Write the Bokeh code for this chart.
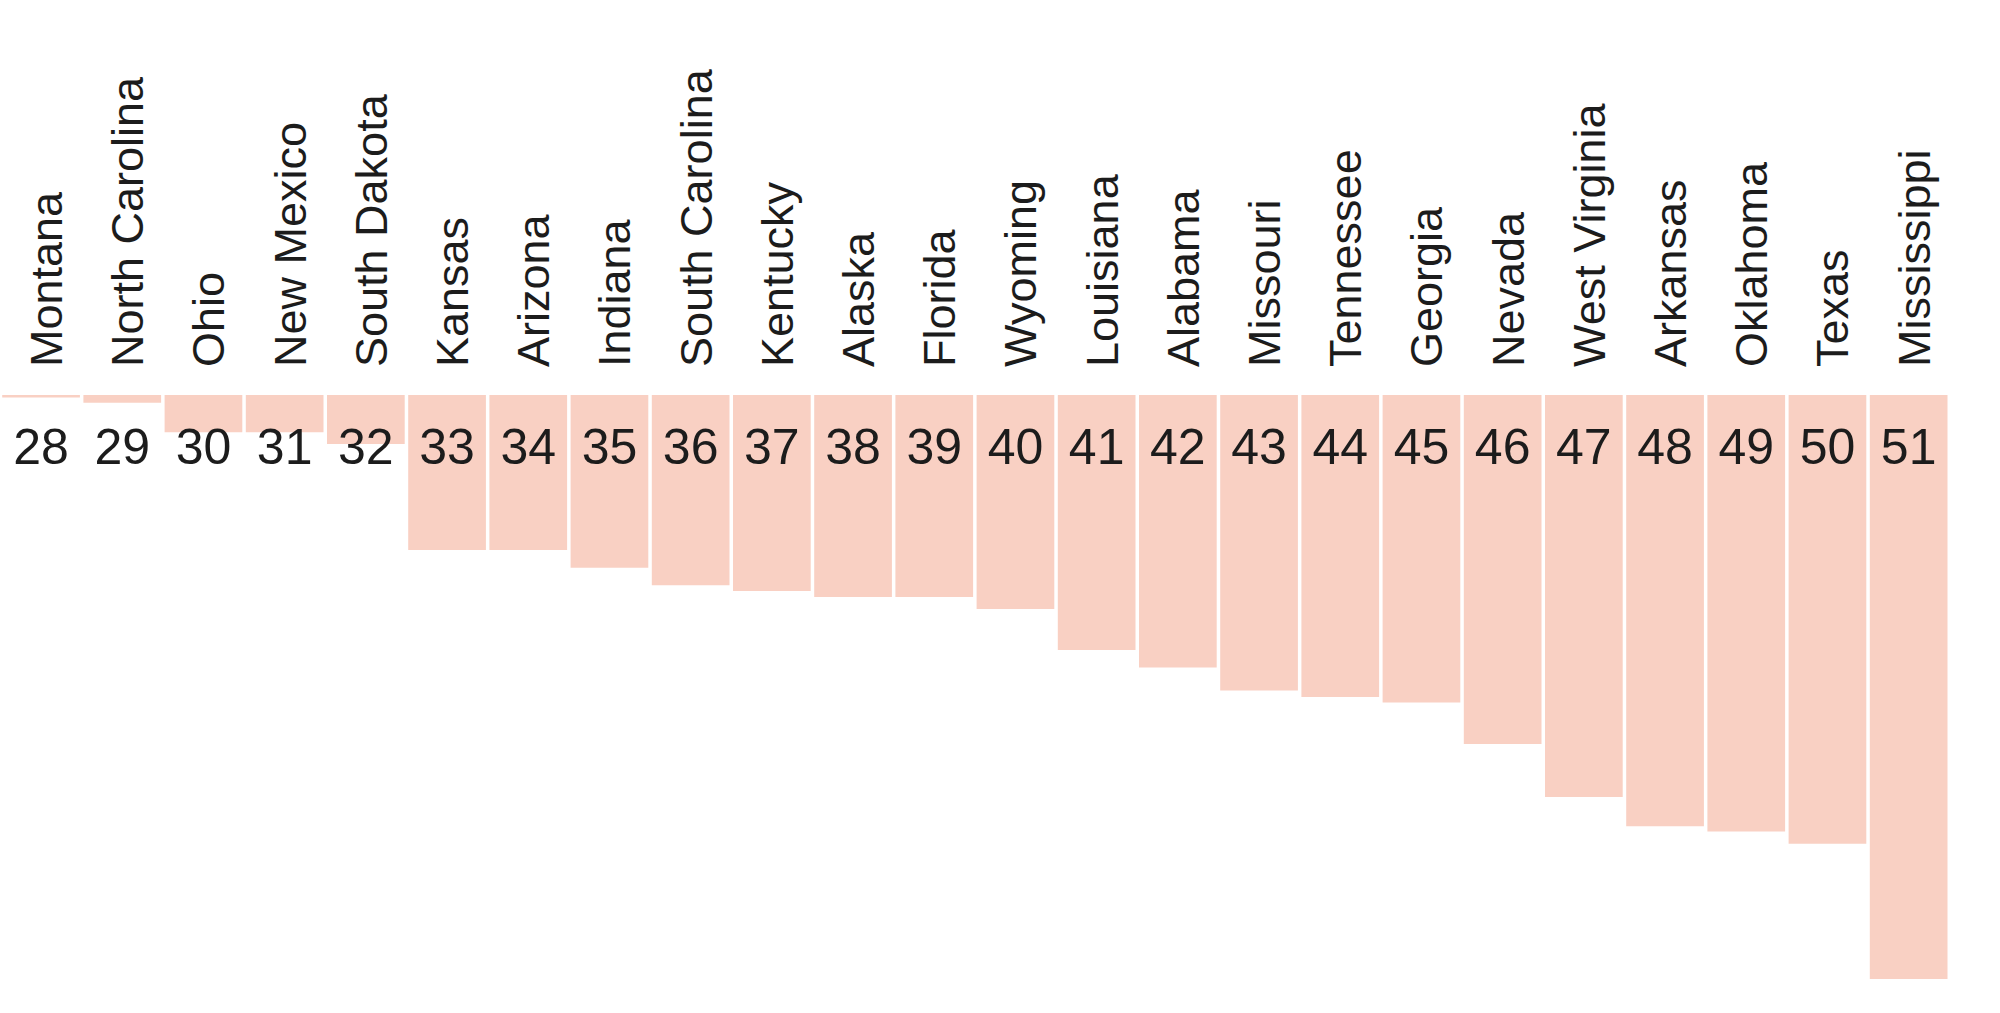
import math
from bokeh.plotting import figure
from bokeh.models import ColumnDataSource, Range1d
from bokeh.core.properties import value
from bokeh.embed import file_html
from bokeh.resources import INLINE

# ---- data ----
states = ["Montana", "North Carolina", "Ohio", "New Mexico", "South Dakota", "Kansas",
          "Arizona", "Indiana", "South Carolina", "Kentucky", "Alaska", "Florida",
          "Wyoming", "Louisiana", "Alabama", "Missouri", "Tennessee", "Georgia",
          "Nevada", "West Virginia", "Arkansas", "Oklahoma", "Texas", "Mississippi"]
ranks = [28, 29, 30, 31, 32, 33, 34, 35, 36, 37, 38, 39, 40, 41, 42, 43, 44, 45,
         46, 47, 48, 49, 50, 51]
values = [0.25, 0.77, 3.73, 3.73, 4.9, 15.5, 15.5, 17.27, 19.03, 19.6, 20.2, 20.2,
          21.4, 25.5, 27.26, 29.56, 30.2, 30.76, 34.9, 40.2, 43.13, 43.66, 44.88, 58.4]

# ---- layout ----
W, H = 1984, 997
pitch = 81.2           # px per category
bar_w = 0.957          # fraction of category
left_px = 1.7          # canvas px of first bar's left edge
baseline_px = 394.5    # canvas px of the zero line
ppu = 10.0             # px per value unit

x0 = -bar_w / 2 - left_px / pitch
x_range = Range1d(x0, x0 + W / pitch)
y_end = baseline_px / ppu
y_range = Range1d(y_end - H / ppu, y_end)

idx = list(range(len(states)))
src = ColumnDataSource(dict(
    x=idx,
    top=[0.0] * len(values),
    bottom=[-v for v in values],
    state=states,
    rank=[str(r) for r in ranks],
))

p = figure(width=W, height=H, x_range=x_range, y_range=y_range,
           output_backend="svg", toolbar_location=None,
           min_border=0, min_border_left=0, min_border_right=0,
           min_border_top=0, min_border_bottom=0)
p.axis.visible = False
p.xgrid.visible = False
p.ygrid.visible = False
p.outline_line_color = None
p.background_fill_color = "white"
p.border_fill_color = "white"

p.vbar(x="x", top="top", bottom="bottom", width=bar_w, source=src,
       fill_color="#f9d0c3", line_color=None)

text_color = "#1c1c1c"
# rank numbers
p.text(x="x", y=-(446 - baseline_px) / ppu, text="rank", source=src,
       text_font=value("Liberation Sans"), text_font_size="50px",
       text_color=text_color, text_align="center", text_baseline="alphabetic")

# state labels (rotated)
p.text(x="x", y=(baseline_px - 366.5) / ppu, text="state", source=src,
       angle=math.pi / 2, x_offset=5.5,
       text_font=value("Liberation Sans"), text_font_size="45px",
       text_color=text_color, text_align="left", text_baseline="alphabetic")

open("out.html", "w").write(file_html(p, INLINE))
